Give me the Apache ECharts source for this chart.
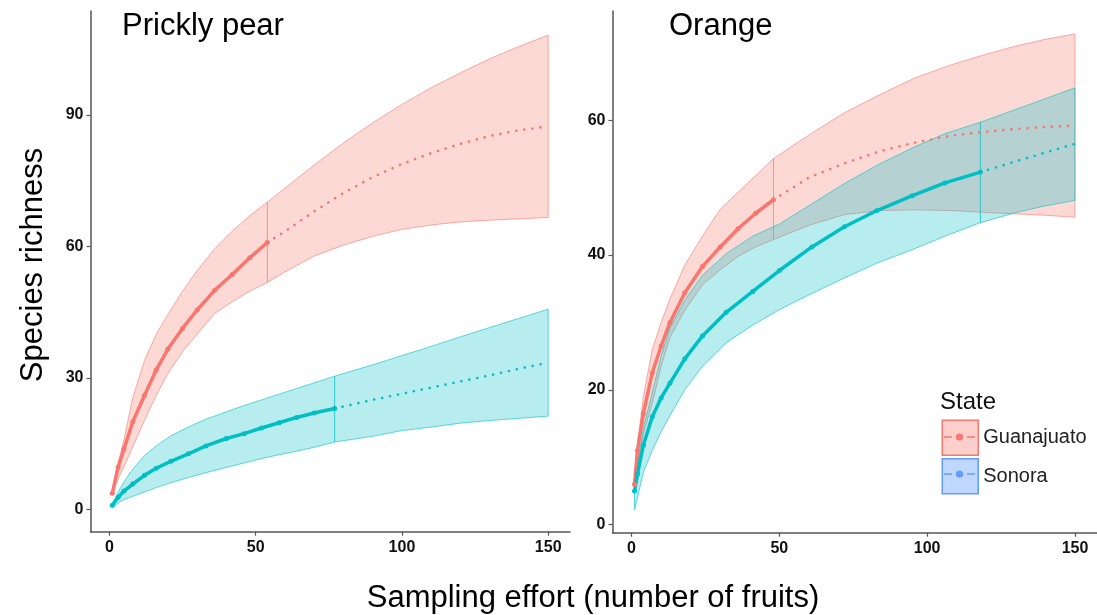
<!DOCTYPE html>
<html>
<head>
<meta charset="utf-8">
<script src="https://cdn.jsdelivr.net/npm/echarts@6/dist/echarts.min.js"></script>
<style>
  html, body { margin: 0; padding: 0; background: #fff; }
  #chart { width: 1097px; height: 615px; }
</style>
</head>
<body>
<div id="chart"></div>
<script>
// Prickly pear - Guanajuato (observed up to 54 fruits, then extrapolated)
var ppGuaX = [1, 3, 5, 8, 12, 16, 20, 25, 30, 36, 42, 48, 54, 60, 70, 80, 90, 100, 110, 120, 130, 140, 150]
var ppGuaMean = [3.7, 9.7, 13.8, 20.0, 26.0, 31.8, 36.6, 41.3, 45.5, 50.0, 53.6, 57.4, 60.9, 63.4, 68.0, 72.2, 75.8, 78.8, 81.3, 83.4, 85.2, 86.5, 87.4]
var ppGuaLo = [3.5, 7.0, 9.8, 14.3, 20.3, 26.0, 31.0, 36.0, 40.0, 44.7, 47.4, 49.8, 51.8, 54.2, 57.8, 60.3, 62.3, 63.9, 64.9, 65.6, 66.0, 66.3, 66.6]
var ppGuaHi = [3.9, 10.5, 16.0, 25.5, 34.0, 40.0, 44.5, 49.8, 54.5, 59.5, 63.5, 67.0, 70.1, 73.3, 78.6, 83.6, 88.2, 92.4, 96.2, 99.6, 102.8, 105.6, 108.2]
var ppGuaRef = 54

// Prickly pear - Sonora
var ppSonX = [1, 3, 5, 8, 12, 16, 21, 27, 33, 40, 46, 52, 58, 64, 70, 77, 90, 100, 110, 120, 130, 140, 150]
var ppSonMean = [1.0, 2.8, 4.2, 5.8, 7.8, 9.4, 11.0, 12.7, 14.5, 16.2, 17.3, 18.6, 19.8, 21.0, 22.0, 23.05, 25.0, 26.4, 27.8, 29.2, 30.6, 32.1, 33.5]
var ppSonLo = [0.4, 1.5, 2.3, 3.0, 4.0, 5.0, 6.1, 7.3, 8.4, 9.6, 10.6, 11.6, 12.5, 13.3, 14.2, 15.4, 16.7, 18.0, 18.8, 19.7, 20.3, 20.8, 21.3]
var ppSonHi = [1.2, 4.0, 6.3, 9.2, 12.3, 14.5, 16.8, 18.8, 20.6, 22.3, 23.7, 25.0, 26.3, 27.6, 28.9, 30.4, 33.0, 35.1, 37.2, 39.4, 41.5, 43.6, 45.7]
var ppSonRef = 77

// Orange - Guanajuato
var orGuaX = [1, 2, 4, 7, 10, 13, 18, 24, 30, 36, 42, 48, 60, 72, 84, 96, 108, 120, 130, 140, 150]
var orGuaMean = [6.0, 11.0, 16.5, 22.5, 26.5, 30.0, 34.4, 38.3, 41.2, 43.9, 46.2, 48.2, 51.5, 53.6, 55.4, 56.7, 57.7, 58.3, 58.7, 59.0, 59.2]
var orGuaLo = [5.4, 8.5, 13.5, 18.0, 23.5, 27.8, 31.8, 35.6, 37.8, 39.8, 41.2, 42.3, 44.4, 46.0, 46.6, 46.7, 46.6, 46.3, 46.1, 45.9, 45.6]
var orGuaHi = [6.5, 12.0, 19.0, 26.0, 30.0, 33.5, 38.5, 42.8, 46.8, 49.3, 51.8, 54.3, 57.8, 61.1, 63.8, 66.3, 68.2, 69.8, 71.0, 72.0, 72.8]
var orGuaRef = 48

// Orange - Sonora
var orSonX = [1, 2, 4, 7, 10, 13, 18, 24, 32, 41, 50, 61, 72, 83, 95, 106, 118, 130, 140, 150]
var orSonMean = [5.0, 7.5, 11.8, 16.0, 18.8, 21.0, 24.6, 28.0, 31.5, 34.6, 37.7, 41.2, 44.2, 46.6, 48.8, 50.7, 52.3, 53.9, 55.2, 56.5]
var orSonLo = [2.2, 4.0, 7.8, 11.0, 13.8, 16.2, 20.0, 23.5, 27.0, 29.6, 31.9, 34.3, 36.6, 38.8, 40.8, 42.8, 44.8, 46.3, 47.3, 48.1]
var orSonHi = [5.8, 9.0, 14.3, 19.6, 25.0, 29.2, 33.3, 37.0, 40.2, 42.8, 44.6, 47.6, 50.6, 53.3, 55.9, 58.0, 59.7, 61.6, 63.2, 64.8]
var orSonRef = 118

var xTicks = [0, 50, 100, 150]
var ppYTicks = [0, 30, 60, 90]
var orYTicks = [0, 20, 40, 60]

var RED = '#F8766D'
var TEAL = '#00BFC4'
var BLUE = '#619CFF'
var FONT = '"Liberation Sans", Arial, Helvetica, sans-serif'

function pts(xs, ys, from, to) {
  var out = []
  for (var i = from; i <= to; i++) out.push([xs[i], ys[i]])
  return out
}

// confidence ribbon drawn as one polygon through the axes
function bandSeries(name, rgb, idx, xs, lo, hi) {
  var rows = xs.map(function(x, i) { return [x, lo[i], hi[i]] })
  return {
    name: name, type: 'custom', xAxisIndex: idx, yAxisIndex: idx,
    data: rows, encode: { x: 0, y: [1, 2] }, silent: true,
    renderItem: function(params, api) {
      if (params.dataIndex !== 0) return null
      var top = []
      var bottom = []
      for (var i = 0; i < rows.length; i++) {
        top.push(api.coord([api.value(0, i), api.value(2, i)]))
        bottom.push(api.coord([api.value(0, i), api.value(1, i)]))
      }
      return {
        type: 'polygon',
        shape: { points: top.concat(bottom.reverse()) },
        style: { fill: 'rgba(' + rgb + ',0.28)', stroke: 'rgba(' + rgb + ',0.6)', lineWidth: 1 }
      }
    }
  }
}

// vertical line at the reference sample size
function refSeries(name, color, idx, xs, lo, hi, ref) {
  var k = xs.indexOf(ref)
  return {
    name: name, type: 'line', xAxisIndex: idx, yAxisIndex: idx,
    data: [[ref, lo[k]], [ref, hi[k]]],
    symbol: 'none', lineStyle: { color: color, width: 1, opacity: 0.75 }, silent: true
  }
}

// observed (points) + extrapolated (dotted)
function meanSeries(name, color, idx, xs, mean, ref) {
  var k = xs.indexOf(ref)
  return [
    {
      name: name, type: 'line', xAxisIndex: idx, yAxisIndex: idx,
      data: pts(xs, mean, 0, k),
      symbol: 'circle', symbolSize: 5, showSymbol: true,
      itemStyle: { color: color },
      lineStyle: { color: color, width: 3.5 }, silent: true
    },
    {
      name: name, type: 'line', xAxisIndex: idx, yAxisIndex: idx,
      data: pts(xs, mean, k, xs.length - 1),
      symbol: 'none',
      lineStyle: { color: color, width: 2.6, type: [0.1, 8], cap: 'round' }, silent: true
    }
  ]
}

function xAxisCfg(idx) {
  return {
    type: 'value', gridIndex: idx, min: -6.45, max: 157.45,
    splitLine: { show: false },
    axisLine: { onZero: false, lineStyle: { color: '#555', width: 1.5 } },
    axisTick: { length: 4, customValues: xTicks, lineStyle: { color: '#555', width: 1.2 } },
    axisLabel: { customValues: xTicks, margin: 8, fontSize: 16, fontWeight: 'bold', color: '#111', fontFamily: FONT }
  }
}

function yAxisCfg(idx, min, max, ticks) {
  return {
    type: 'value', gridIndex: idx, min: min, max: max,
    splitLine: { show: false },
    axisLine: { show: true, onZero: false, lineStyle: { color: '#555', width: 1.5 } },
    axisTick: { show: true, length: 4, customValues: ticks, lineStyle: { color: '#555', width: 1.2 } },
    axisLabel: { customValues: ticks, margin: 7, fontSize: 16, fontWeight: 'bold', color: '#111', fontFamily: FONT }
  }
}

var series = [
  bandSeries('Guanajuato', '248,118,109', 0, ppGuaX, ppGuaLo, ppGuaHi),
  bandSeries('Sonora', '0,191,196', 0, ppSonX, ppSonLo, ppSonHi),
  bandSeries('Guanajuato', '248,118,109', 1, orGuaX, orGuaLo, orGuaHi),
  bandSeries('Sonora', '0,191,196', 1, orSonX, orSonLo, orSonHi),
  refSeries('Guanajuato', RED, 0, ppGuaX, ppGuaLo, ppGuaHi, ppGuaRef),
  refSeries('Sonora', TEAL, 0, ppSonX, ppSonLo, ppSonHi, ppSonRef),
  refSeries('Guanajuato', RED, 1, orGuaX, orGuaLo, orGuaHi, orGuaRef),
  refSeries('Sonora', TEAL, 1, orSonX, orSonLo, orSonHi, orSonRef)
].concat(
  meanSeries('Guanajuato', RED, 0, ppGuaX, ppGuaMean, ppGuaRef),
  meanSeries('Sonora', TEAL, 0, ppSonX, ppSonMean, ppSonRef),
  meanSeries('Guanajuato', RED, 1, orGuaX, orGuaMean, orGuaRef),
  meanSeries('Sonora', TEAL, 1, orSonX, orSonMean, orSonRef)
)

function keyMark(cy, color) {
  return [
    { type: 'line', z: 100, shape: { x1: 944, y1: cy, x2: 952, y2: cy }, style: { stroke: color, lineWidth: 1.5 } },
    { type: 'line', z: 100, shape: { x1: 967, y1: cy, x2: 975, y2: cy }, style: { stroke: color, lineWidth: 1.5 } },
    { type: 'circle', z: 100, shape: { cx: 959.5, cy: cy, r: 3.6 }, style: { fill: color } }
  ]
}

var chart = echarts.init(document.getElementById('chart'))
chart.setOption({
  animation: false,
  backgroundColor: '#fff',
  grid: [
    { left: 90.5, top: 11, width: 479.5, height: 520.7 },
    { left: 612.5, top: 11, width: 488, height: 521.7 }
  ],
  xAxis: [xAxisCfg(0), xAxisCfg(1)],
  yAxis: [
    yAxisCfg(0, -5.06, 113.7, ppYTicks),
    yAxisCfg(1, -1.19, 76.2, orYTicks)
  ],
  legend: {
    orient: 'vertical', left: 941.5, top: 419.5, padding: 0,
    itemWidth: 36, itemHeight: 35, itemGap: 2, icon: 'rect',
    selectedMode: false,
    textStyle: { fontSize: 20, color: '#222', fontFamily: FONT },
    data: [
      { name: 'Guanajuato', itemStyle: { color: 'rgba(248,118,109,0.35)', borderColor: RED, borderWidth: 1.5 } },
      { name: 'Sonora', itemStyle: { color: 'rgba(97,156,255,0.4)', borderColor: BLUE, borderWidth: 1.5 } }
    ]
  },
  graphic: [
    { type: 'text', x: 122, y: 26, style: { text: 'Prickly pear', font: '31px ' + FONT, fill: '#000', textVerticalAlign: 'middle' } },
    { type: 'text', x: 669, y: 26, style: { text: 'Orange', font: '31px ' + FONT, fill: '#000', textVerticalAlign: 'middle' } },
    { type: 'text', x: 33, y: 265, rotation: Math.PI / 2, style: { text: 'Species richness', font: '31px ' + FONT, fill: '#000', textAlign: 'center', textVerticalAlign: 'middle' } },
    { type: 'text', x: 593, y: 598, style: { text: 'Sampling effort (number of fruits)', font: '31px ' + FONT, fill: '#000', textAlign: 'center', textVerticalAlign: 'middle' } },
    { type: 'text', x: 940, y: 402, style: { text: 'State', font: '24px ' + FONT, fill: '#111', textVerticalAlign: 'middle' } }
  ].concat(keyMark(437, RED), keyMark(474, BLUE)),
  series: series
})
</script>
</body>
</html>
